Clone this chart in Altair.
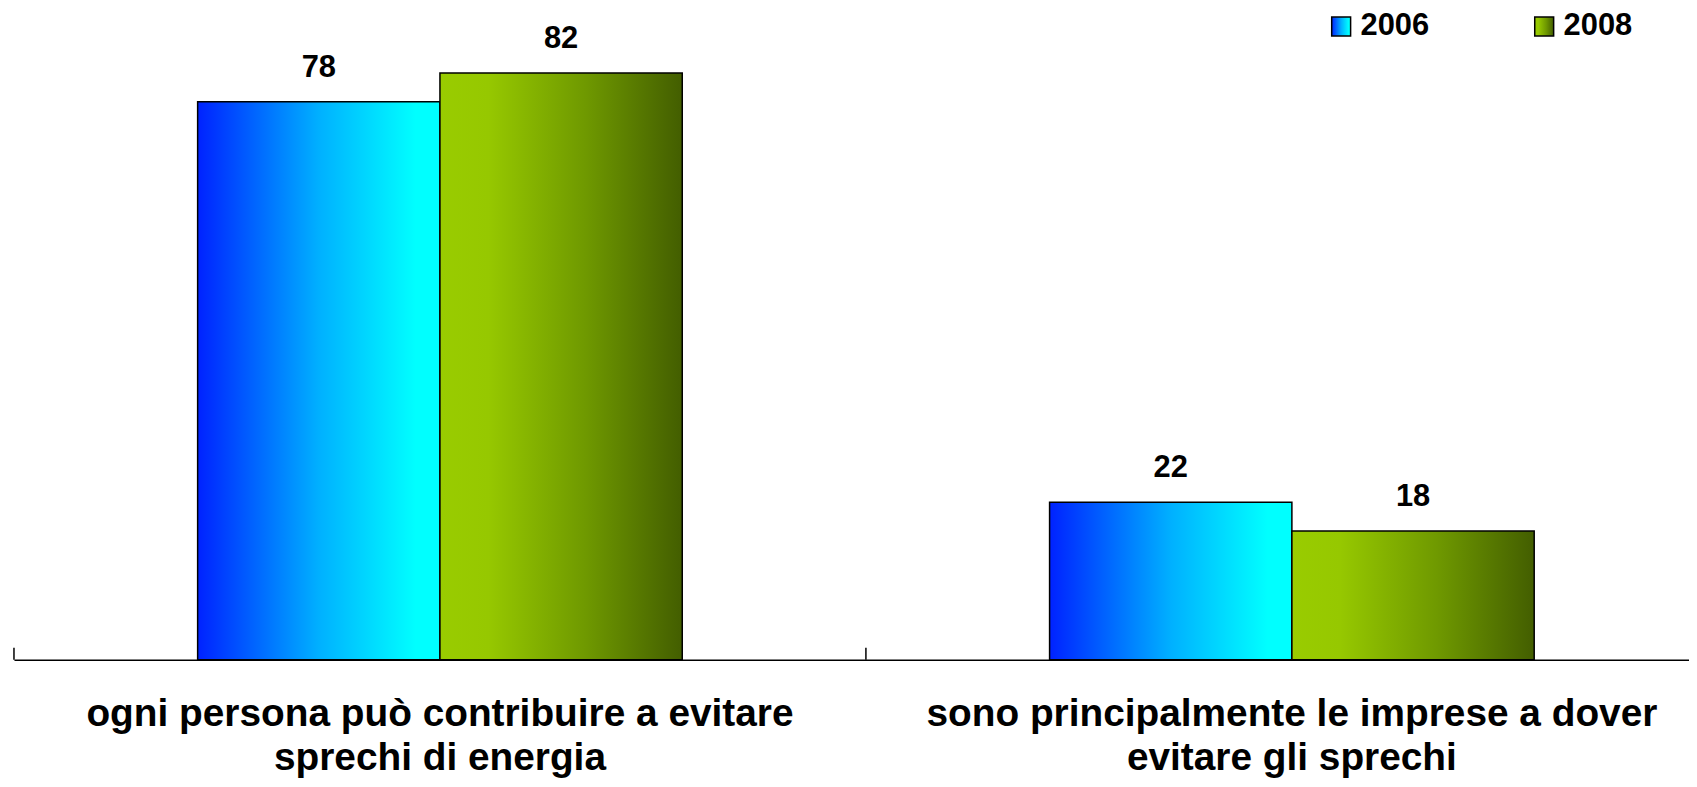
import altair as alt
import pandas as pd

categories = [
    "ogni persona può contribuire a evitare\nsprechi di energia",
    "sono principalmente le imprese a dover\nevitare gli sprechi",
]
years = ["2006", "2008"]
values_2006 = [78, 22]
values_2008 = [82, 18]

rows = []
for i, c in enumerate(categories):
    rows.append({"cat": c, "year": years[0], "value": values_2006[i]})
    rows.append({"cat": c, "year": years[1], "value": values_2008[i]})
df = pd.DataFrame(rows)
ticks_df = pd.DataFrame({"cat": categories})

grad2006 = ("{gradient: 'linear', x1: 0, y1: 0, x2: 1, y2: 0, stops: ["
            "{offset: 0, color: '#0022ff'}, {offset: 0.5, color: '#00b0ff'}, "
            "{offset: 0.9, color: '#00ffff'}, {offset: 1, color: '#00ffff'}]}")
grad2008 = ("{gradient: 'linear', x1: 0, y1: 0, x2: 1, y2: 0, stops: ["
            "{offset: 0, color: '#99cc00'}, {offset: 0.2, color: '#96c800'}, "
            "{offset: 0.6, color: '#6f9900'}, {offset: 1, color: '#435e00'}]}")

FONT = "Liberation Sans"
W = 1683
H = 647

xscale = alt.Scale(range=[0, 1712], paddingInner=0, paddingOuter=0)
xaxis = alt.Axis(
    title=None, labelAngle=0, labelExpr="split(datum.label, '\\n')",
    labelFontSize=39, labelFont=FONT, labelFontWeight="bold", labelColor="black",
    labelLineHeight=44, labelPadding=35, ticks=False, domainColor="black",
    domainWidth=1.5, labelLimit=0, grid=False,
)
x = alt.X("cat:N", sort=categories, scale=xscale, axis=xaxis)
xoff = alt.XOffset("year:N", sort=years, scale=alt.Scale(paddingOuter=0.758, paddingInner=0))
y = alt.Y("value:Q", scale=alt.Scale(domain=[0, 90]), axis=None)

bars = alt.Chart(df).mark_bar(stroke="black", strokeWidth=1.5).encode(
    x=x, xOffset=xoff, y=y,
    color=alt.Color(
        "year:N",
        scale=alt.Scale(domain=years, range=[alt.ExprRef(grad2006), alt.ExprRef(grad2008)]),
        legend=alt.Legend(
            title=None, orient="none", legendX=1318, legendY=-5, direction="horizontal",
            symbolType="square", symbolSize=361, symbolStrokeColor="black",
            symbolStrokeWidth=1.5, labelFontSize=31, labelFont=FONT, labelFontWeight="bold",
            labelColor="black", labelOffset=4, columnPadding=100, padding=0,
        ),
    ),
)

labels = alt.Chart(df).mark_text(
    dy=-25, baseline="alphabetic", fontSize=31, fontWeight="bold", font=FONT, color="black"
).encode(x=x, xOffset=xoff, y=y, text="value:Q")

ticks = alt.Chart(ticks_df).mark_rule(color="black", strokeWidth=1.5).encode(
    x=alt.X("cat:N", sort=categories, scale=xscale, axis=xaxis, bandPosition=0),
    y=alt.value(H - 12), y2=alt.value(H),
)

chart = alt.layer(bars, labels, ticks).properties(
    width=W, height=H,
    autosize=alt.AutoSizeParams(type="none"),
    padding={"left": 6, "top": 6, "right": 0, "bottom": 117},
).configure_view(stroke=None)

chart.save("out.html", embed_options={"renderer": "svg", "actions": False})
